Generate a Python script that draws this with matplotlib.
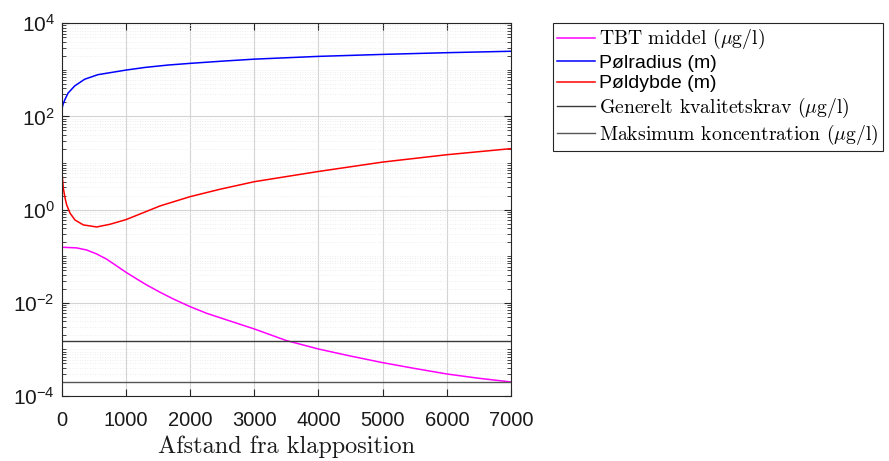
import matplotlib
matplotlib.use("Agg")
import matplotlib.pyplot as plt
from matplotlib.ticker import FixedLocator, LogLocator, LogFormatterSciNotation, NullFormatter, NullLocator

plt.rcParams['font.family'] = ['Liberation Sans', 'DejaVu Sans']
plt.rcParams['mathtext.fontset'] = 'custom'
plt.rcParams['mathtext.rm'] = 'Liberation Sans'
plt.rcParams['mathtext.it'] = 'Liberation Sans:italic'

# ---- data ----
dist_tbt = [0, 233, 389, 545, 701, 857, 1000, 1168, 1324, 1531, 1739, 2000, 2255, 2570,
            3000, 3500, 4000, 4500, 5000, 5500, 6000, 6500, 7000]
tbt_middel = [0.156, 0.151, 0.136, 0.112, 0.0863, 0.0619, 0.0454, 0.0326, 0.0242, 0.0169,
              0.0121, 0.00828, 0.00598, 0.0043, 0.00275, 0.00155, 0.00102, 0.00072,
              0.00052, 0.00039, 0.000297, 0.00024, 0.0002]

dist_radius = [0, 20, 47, 98, 202, 358, 565, 1000, 1300, 1656, 2000, 2500, 3000, 4000, 5000,
               6000, 7000]
polradius = [138, 180, 226, 316, 452, 630, 790, 990, 1130, 1270, 1380, 1540, 1700, 1950, 2150,
             2340, 2510]

dist_dybde = [0, 25, 51, 78, 130, 207, 337, 545, 753, 1000, 1271, 1531, 2000, 2466, 3000,
              3500, 4000, 5000, 6000, 7000]
poldybde = [7.4, 2.9, 1.81, 1.26, 0.84, 0.60, 0.47, 0.425, 0.486, 0.61, 0.86, 1.2, 1.9, 2.74,
            3.98, 5.13, 6.6, 10.5, 15.1, 20.4]

dist_limits = [0, 7000]
generelt_krav = [1.5e-3, 1.5e-3]
maks_konc = [2e-4, 2e-4]

labels = ['TBT middel ($\\mu$g/l)', 'Pølradius (m)', 'Pøldybde (m)',
          'Generelt kvalitetskrav ($\\mu$g/l)', 'Maksimum koncentration ($\\mu$g/l)']
xticks = [0, 1000, 2000, 3000, 4000, 5000, 6000, 7000]
yticks = [1e-4, 1e-2, 1e0, 1e2, 1e4]

fig = plt.figure(figsize=(8.89, 4.61), dpi=100)
ax = fig.add_axes([61.7/889, 1-396/461, (511-61.7)/889, (396-23.3)/461])

ax.plot(dist_tbt, tbt_middel, color=(1, 0, 1), lw=1.1, label=labels[0])
ax.plot(dist_radius, polradius, color=(0, 0, 1), lw=1.1, label=labels[1])
ax.plot(dist_dybde, poldybde, color=(1, 0, 0), lw=1.1, label=labels[2])
ax.plot(dist_limits, generelt_krav, color='#3a3a3a', lw=1.0, label=labels[3])
ax.plot(dist_limits, maks_konc, color='#555555', lw=1.0, label=labels[4])

ax.set_yscale('log')
ax.set_xlim(0, 7000)
ax.set_ylim(1e-4, 1e4)
ax.set_xticks(xticks)
ax.yaxis.set_major_locator(FixedLocator(yticks))
ax.yaxis.set_major_formatter(LogFormatterSciNotation())
ax.yaxis.set_minor_locator(LogLocator(base=10, subs=[1, 2, 3, 4, 5, 6, 7, 8, 9], numticks=50))
ax.yaxis.set_minor_formatter(NullFormatter())
ax.xaxis.set_minor_locator(NullLocator())

ax.grid(True, which='major', color='#d4d4d4', lw=0.8, ls='-')
ax.grid(True, which='minor', axis='y', color='#e8e8e8', lw=0.6, ls=(0, (1, 2)))
ax.set_axisbelow(True)

for s in ax.spines.values():
    s.set_color('#262626')
    s.set_linewidth(0.8)
ax.tick_params(which='both', direction='in', top=True, right=True, colors='#262626')
ax.tick_params(which='major', length=5)
ax.tick_params(which='minor', length=3)
ax.tick_params(axis='x', labelsize=14.5, pad=11)
ax.tick_params(axis='y', labelsize=15, pad=5)
for t in ax.get_xticklabels() + ax.get_yticklabels():
    t.set_color('#1a1a1a')

ax.set_xlabel('Afstand fra klapposition', family='cmr10', fontsize=17.5, labelpad=4, color='#1a1a1a')

leg = ax.legend(loc='upper left', bbox_to_anchor=(553/889, 1-23/461), bbox_transform=fig.transFigure,
                borderaxespad=0, fancybox=False, framealpha=1, edgecolor='#262626',
                fontsize=14, handlelength=1.95, handletextpad=0.2, labelspacing=0.15,
                borderpad=0.22)
leg.get_frame().set_linewidth(0.8)
for i, t in enumerate(leg.get_texts()):
    if i in (0, 3, 4):
        t.set_family('cmr10')
        t.set_math_fontfamily('cm')
        t.set_fontsize(14.2)
    t.set_color('black')

fig.savefig('out.png', dpi=100, facecolor='white')
